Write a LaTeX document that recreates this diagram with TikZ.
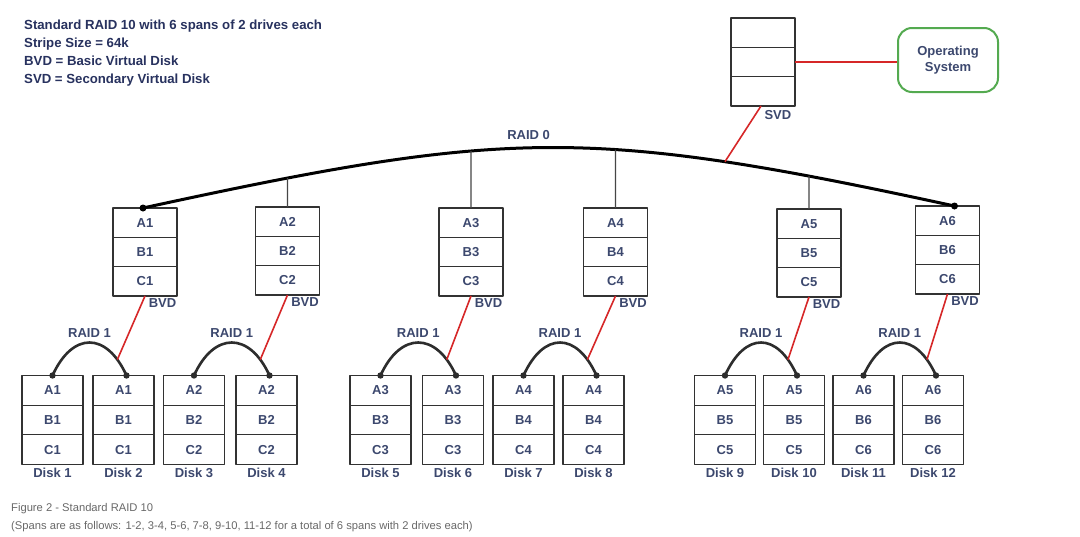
\documentclass[tikz,border=0pt]{standalone}
\usepackage{fontspec}
\setmainfont{Liberation Sans}
\usepackage{tikz}
\usetikzlibrary{positioning}
\usetikzlibrary{intersections}

% three stacked cells: name, style, top centre, texts
\newcommand{\stackbox}[6]{%
    \node[#2, anchor=north] (#1-a) at (#3) {#4};
    \node[#2, below=0pt of #1-a] (#1-b) {#5};
    \node[#2, below=0pt of #1-b] (#1-c) {#6};
}

\begin{document}
\begin{tikzpicture}[
    line join=round,
    x=1pt,
    y=-1pt
]

% =========================================================
% Colors
% =========================================================
\definecolor{boxline}{RGB}{50,50,50}
\definecolor{labelblue}{RGB}{60,72,110}
\definecolor{headnavy}{RGB}{40,50,95}
\definecolor{capgray}{RGB}{105,105,105}
\definecolor{linkred}{RGB}{214,39,40}
\definecolor{osgreen}{RGB}{84,170,80}
\definecolor{arcdark}{RGB}{45,45,45}
\definecolor{stemgray}{RGB}{70,70,70}

% =========================================================
% Styles
% =========================================================
\tikzset{
    lbl/.style={text=labelblue,font=\fontsize{13}{15}\selectfont\bfseries},
    headtext/.style={text=headnavy,font=\fontsize{13.2}{15}\selectfont\bfseries,inner sep=0pt},
    captext/.style={text=capgray,font=\fontsize{11.2}{13}\selectfont,inner sep=0pt},
    cell/.style={lbl,draw=boxline,line width=1.3pt,minimum width=64pt,
        minimum height=29.33pt,inner sep=0pt,outer sep=0pt},
    diskcell/.style={cell,minimum width=61pt,minimum height=29.67pt},
    raidzero/.style={black,line width=3pt},
    raidone/.style={arcdark,line width=2.6pt,line cap=round},
    dotfill/.style={fill=arcdark},
    stem/.style={stemgray,line width=1.4pt},
    redlink/.style={linkred,line width=1.6pt},
    osbox/.style={lbl,draw=osgreen,line width=2pt,rounded corners=14pt,
        minimum width=100pt,minimum height=64pt,align=center,
        font=\fontsize{13}{16}\selectfont\bfseries}
}

\fill[white] (0,0) rectangle (1080,536);
\useasboundingbox (0,0) rectangle (1080,536);

% =========================================================
% Legend text — top left
% =========================================================
\foreach \t [count=\i from 0] in {Standard RAID 10 with 6 spans of 2 drives each,
    Stripe Size = 64k, BVD = Basic Virtual Disk, SVD = Secondary Virtual Disk}
    \node[headtext,anchor=base west] (head\i) at (24,29.6+18*\i) {\t};

% =========================================================
% SVD and operating system
% =========================================================
\stackbox{svd}{cell}{763,18}{}{}{}
\node[lbl,anchor=north east,inner sep=0pt] (svdlbl)
    at ([xshift=-3.5pt,yshift=-4.5pt]svd-c.south east) {SVD};
\node[osbox] (os) at (948,60) {Operating\\System};
\draw[redlink] (svd-b.east) -- (svd-b.east -| os.west);

% =========================================================
% Basic virtual disks
% =========================================================
\foreach \k/\x/\y in {1/145/208,2/287.5/207,3/471/208,4/615.5/208,5/809/209,6/947.5/206}
{
    \stackbox{b\k}{cell}{\x,\y}{A\k}{B\k}{C\k}
    \node[lbl,anchor=north east,inner sep=0pt] (bl\k)
        at ([xshift=-0.5pt,yshift=-2.5pt]b\k-c.south east) {BVD};
}

% =========================================================
% RAID 0 stripe across the BVDs
% =========================================================
\coordinate (r0l) at ([xshift=-2pt]b1-a.north);
\coordinate (r0r) at ([xshift=7pt]b6-a.north);
\draw[raidzero,name path=raid0] (r0l)
    .. controls +(365.4,-79.3) and +(-365.4,-79.3) .. (r0r)
    node[lbl,pos=0.47,above,yshift=3pt] (r0lbl) {RAID 0}
    coordinate[pos=0.75] (svdhit);
\fill (r0l) circle (3.5pt) (r0r) circle (3.5pt);

\foreach \k in {2,...,5}
{
    \path[name path=v\k] (b\k-a.north) -- ++(0,-120);
    \draw[stem,name intersections={of=raid0 and v\k,by=t\k}]
        (b\k-a.north) -- (t\k);
}
\draw[redlink] ([xshift=-2pt]svd-c.south) -- (svdhit);

% =========================================================
% Physical disks
% =========================================================
\foreach \i/\x/\k in {1/52.5/1,2/123.5/1,3/194/2,4/266.5/2,5/380.5/3,6/453/3,
    7/523.5/4,8/593.5/4,9/725/5,10/794/5,11/863.5/6,12/933/6}
{
    \stackbox{d\i}{diskcell}{\x,375.5}{A\k}{B\k}{C\k}
    \node[lbl,inner sep=0pt,below=3pt of d\i-c] (dl\i) {Disk \i};
}

% RAID 1 mirrors
\foreach \k/\l/\r in {1/1/2,2/3/4,3/5/6,4/7/8,5/9/10,6/11/12}
{
    \coordinate (pl\k) at (d\l-a.north);
    \coordinate (pr\k) at ([xshift=3pt]d\r-a.north);
    \draw[raidone] (pl\k) .. controls +(20,-44) and +(-20,-44) .. (pr\k)
        node[lbl,pos=0.5,above] (rl\k) {RAID 1}
        coordinate[pos=0.86] (m\k);
    \fill[dotfill] (pl\k) circle (3.2pt) (pr\k) circle (3.2pt);
    \draw[redlink] (b\k-c.south) -- (m\k);
}

% =========================================================
% Caption
% =========================================================
\node[captext,anchor=base west] (cap1) at (11,511) {Figure 2 - Standard RAID 10};
\node[captext,anchor=base west] (cap2) at (11,529) {(Spans are as follows: 1-2, 3-4, 5-6, 7-8, 9-10, 11-12 for a total of 6 spans with 2 drives each)};

\end{tikzpicture}
\end{document}
